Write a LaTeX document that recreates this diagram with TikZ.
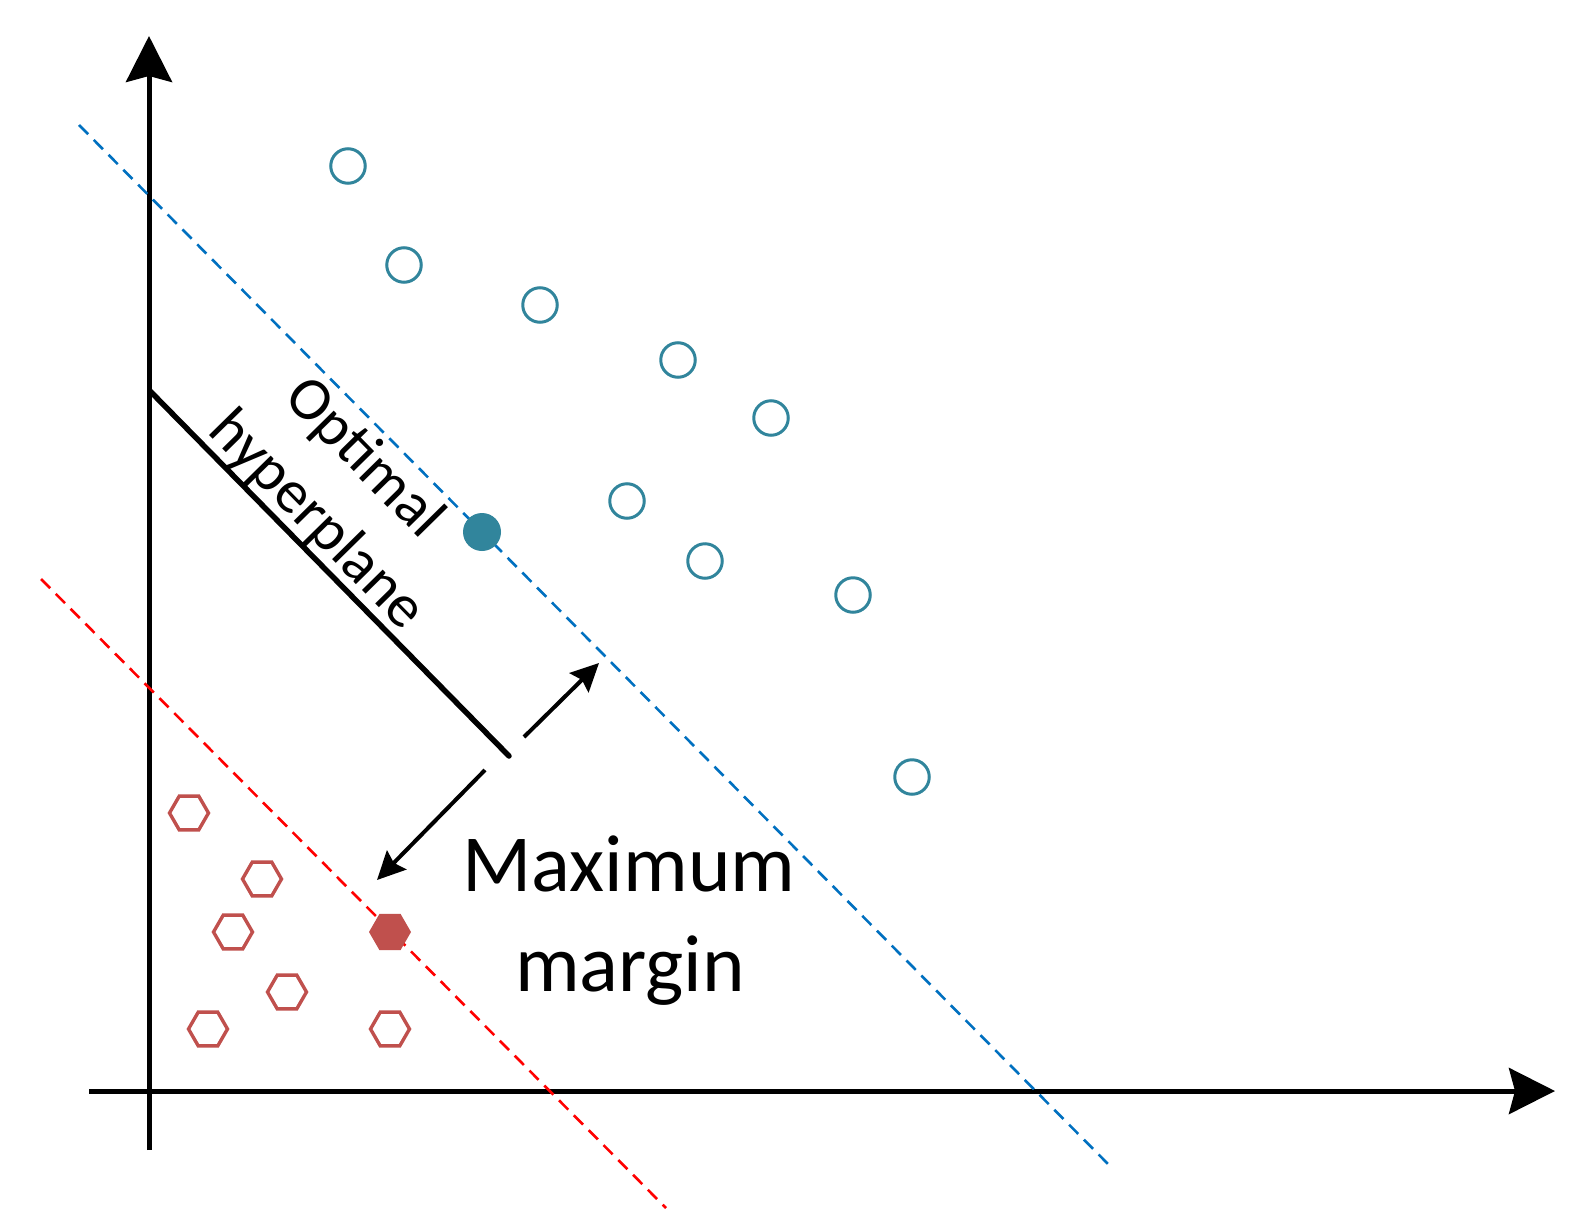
\documentclass[tikz,border=0pt]{standalone}
\usepackage{fontspec}
\setmainfont{Carlito}
\usetikzlibrary{arrows.meta,shapes.geometric}
\definecolor{tealpt}{HTML}{31859C}
\definecolor{hexred}{HTML}{C0504D}
\definecolor{dashblue}{HTML}{0070C0}
\definecolor{dashred}{HTML}{FF0000}
\begin{document}
\begin{tikzpicture}[x=1pt,y=-1pt,
  axisline/.style={line width=5pt,-{Stealth[length=46pt,width=46pt,inset=6pt]}},
  dashline/.style={line width=2.6pt,dash pattern=on 13pt off 8pt},
  openpt/.style={circle,draw=tealpt,line width=3pt,minimum size=34.5pt,inner sep=0pt},
  fullpt/.style={circle,fill=tealpt,minimum size=38pt,inner sep=0pt},
  hexpt/.style={regular polygon,regular polygon sides=6,draw=hexred,line width=3.4pt,minimum size=39pt,inner sep=0pt},
  hexfull/.style={regular polygon,regular polygon sides=6,fill=hexred,minimum size=42pt,inner sep=0pt},
  marrow/.style={line width=4pt,-{Stealth[length=28pt,width=27pt,inset=4pt]}},
  rottext/.style={rotate=-45.5,anchor=base,inner sep=0pt,font=\fontsize{61}{73}\selectfont},
  bigtext/.style={anchor=base,inner sep=0pt,font=\fontsize{81}{97}\selectfont}]
\fill[white] (0,0) rectangle (1581,1231);
\useasboundingbox (0,0) rectangle (1581,1231);
% axes
\coordinate (ybot) at (149,1150);
\coordinate (ytop) at (149,36);
\coordinate (xleft) at (89,1091);
\coordinate (xright) at (1555,1091);
\draw[axisline] (ybot) -- (ytop);
\draw[axisline] (xleft) -- (xright);
% dashed margin lines
\coordinate (b1) at (79,125);
\coordinate (b2) at (1112,1168);
\coordinate (r1) at (41,579);
\coordinate (r2) at (666,1208);
\draw[dashline,dashblue] (b1) -- (b2);
\draw[dashline,dashred] (r1) -- (r2);
% hyperplane
\coordinate (hp1) at (150,391);
\coordinate (hp2) at (509,756);
\draw[line width=5.5pt,line cap=round] (hp1) -- (hp2);
% margin arrows
\coordinate (ua1) at (524,737);
\coordinate (ua2) at (599,663);
\coordinate (da1) at (485,770);
\coordinate (da2) at (377,880);
\draw[marrow] (ua1) -- (ua2);
\draw[marrow] (da1) -- (da2);
% circles
\node[openpt] (c1) at (348,166) {};
\node[openpt] (c2) at (404,265) {};
\node[openpt] (c3) at (540,305) {};
\node[openpt] (c4) at (678,360) {};
\node[openpt] (c5) at (771,418) {};
\node[openpt] (c6) at (627,501) {};
\node[openpt] (c7) at (705,561) {};
\node[openpt] (c8) at (853,595) {};
\node[openpt] (c9) at (912,777) {};
\node[fullpt] (cs) at (482,532) {};
% hexagons
\node[hexpt] (h1) at (189,813) {};
\node[hexpt] (h2) at (262,879) {};
\node[hexpt] (h3) at (233,932) {};
\node[hexpt] (h4) at (287,992) {};
\node[hexpt] (h5) at (208,1029) {};
\node[hexpt] (h7) at (390,1029) {};
\node[hexfull] (hs) at (390,932) {};
% texts
\node[rottext] (opt) at (352,470) {Optimal};
\node[rottext] (hyp) at (305,532) {hyperplane};
\node[bigtext] (maxi) at (629,891) {Maximum};
\node[bigtext] (marg) at (630,991) {margin};
\end{tikzpicture}
\end{document}
